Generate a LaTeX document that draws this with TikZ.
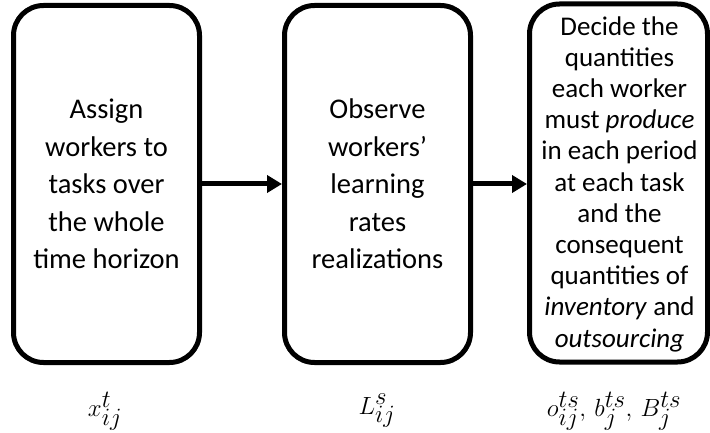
\documentclass[tikz,border=0pt]{standalone}
\usepackage{fontspec}
\setmainfont{Carlito}
\usetikzlibrary{arrows.meta}
\begin{document}
\begin{tikzpicture}[x=1pt,y=-1pt,
  stage/.style={draw=black,line width=5pt,rounded corners=30pt,
    minimum width=186pt,minimum height=357pt,inner sep=0pt,
    align=center,font=\fontsize{28.5}{37.5}\selectfont},
  steptext/.style={inner sep=0pt,align=center,font=\fontsize{27}{31.2}\selectfont},
  flow/.style={line width=5pt,-{Triangle[length=15pt,width=17pt]}},
  var/.style={font=\fontsize{34}{38}\selectfont,inner sep=0pt}]
\useasboundingbox (0,0) rectangle (710,433);
\node[stage] (assign) at (106.5,184) {Assign\\workers to\\tasks over\\the whole\\time horizon};
\node[stage] (observe) at (377.5,184) {Observe\\workers’\\learning\\rates\\realizations};
\node[stage,minimum width=178pt,minimum height=358pt] (decide) at (618.5,183) {};
\node[steptext] (decidetext) at (619.5,184)
  {Decide the\\quantities\\each worker\\must \textit{produce}\\in each period\\at each task\\and the\\consequent\\quantities of\\\textit{inventory} and\\\textit{outsourcing}};
\draw[flow] (assign.east) -- (observe.west);
\draw[flow] (observe.east) -- (observe.east -| decide.west);
\node[var] (vx) at (105,411) {$x_{ij}^{t}$};
\node[var] (vl) at (377,411) {$L_{ij}^{s}$};
\node[var] (vo) at (614,411) {$o_{ij}^{ts},\, b_{j}^{ts},\, B_{j}^{ts}$};
\end{tikzpicture}
\end{document}
